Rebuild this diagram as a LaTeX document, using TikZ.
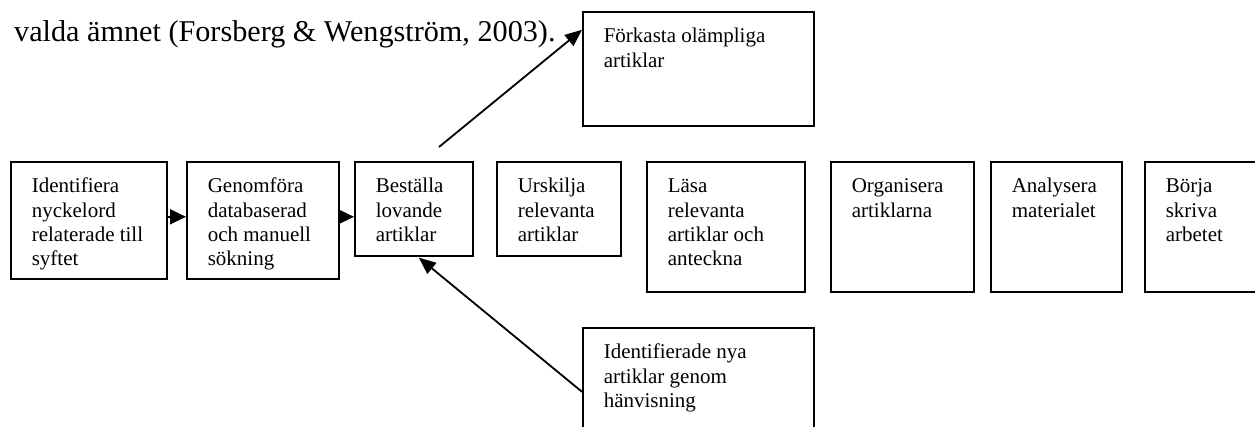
\documentclass[tikz,border=0pt]{standalone}
\usepackage{fontspec}
\setmainfont{Liberation Serif}
\usetikzlibrary{arrows.meta}
\newcommand\bxc[3]{\parbox[c][#2][t]{#1}{\fontsize{21pt}{24.3pt}\selectfont\raggedright\leftskip=21pt\relax\rule{0pt}{31pt}#3\par}}
\tikzset{
  stepbox/.style={draw, line width=1.6pt, inner sep=0pt, anchor=north west},
  conn/.style={line width=1.6pt, -{Triangle[length=16pt,width=15pt]}},
  diag/.style={line width=1.8pt, -{Triangle[length=17pt,width=14pt]}}
}
\begin{document}
\begin{tikzpicture}[x=1pt,y=-1pt]
\useasboundingbox (0,0) rectangle (1255,426);
\clip (0,0) rectangle (1255,426);
\node[anchor=base west, inner sep=0pt, font=\fontsize{30.2pt}{34pt}\selectfont] (cite) at (14,41) {valda ämnet (Forsberg \& Wengström, 2003).};
\node[stepbox] (b1) at (10,161) {\bxc{156pt}{117pt}{Identifiera\\nyckelord\\relaterade till\\syftet}};
\node[stepbox] (b2) at (186,161) {\bxc{152pt}{117pt}{Genomföra\\databaserad\\och manuell\\sökning}};
\node[stepbox] (b3) at (354,161) {\bxc{118pt}{94pt}{Beställa\\lovande\\artiklar}};
\node[stepbox] (b4) at (496,161) {\bxc{124pt}{94pt}{Urskilja\\relevanta\\artiklar}};
\node[stepbox] (b5) at (646,161) {\bxc{158pt}{130pt}{Läsa\\relevanta\\artiklar och\\anteckna}};
\node[stepbox] (b6) at (830,161) {\bxc{143pt}{130pt}{Organisera\\artiklarna}};
\node[stepbox] (b7) at (990,161) {\bxc{131pt}{130pt}{Analysera\\materialet}};
\node[stepbox] (b8) at (1144,161) {\bxc{130pt}{130pt}{Börja\\skriva\\arbetet}};
\node[stepbox] (top) at (582,11) {\bxc{231pt}{114pt}{Förkasta olämpliga\\artiklar}};
\node[stepbox] (bot) at (582,327) {\bxc{231pt}{115pt}{Identifierade nya\\artiklar genom\\hänvisning}};
\coordinate (s) at (439,147);
\draw[conn] ([yshift=3.5pt]b1.east) -- ([yshift=3.5pt]b2.west);
\draw[conn] ([yshift=3.5pt]b2.east) -- ([yshift=3.5pt]b2.east -| b3.west);
\draw[diag] (s) -- ([yshift=39pt]top.west);
\draw[diag] ([yshift=-6.5pt]bot.west) -- ([xshift=5pt,yshift=-1pt]b3.south);
\end{tikzpicture}
\end{document}
